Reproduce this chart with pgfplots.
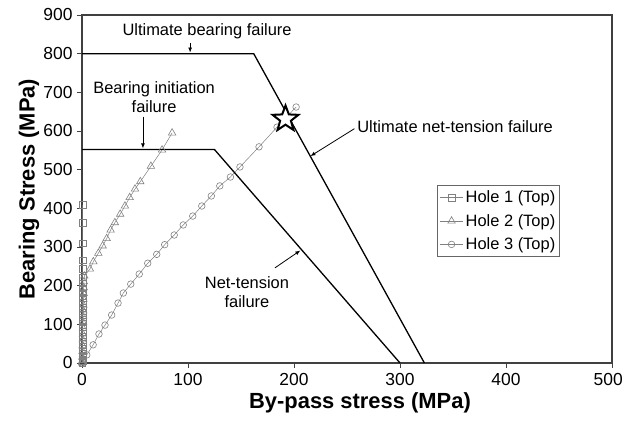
\documentclass[border=0pt]{standalone}
\usepackage{fontspec}
\setmainfont{Liberation Sans}
\usepackage{pgfplots}
\pgfplotsset{compat=1.18}
\usetikzlibrary{arrows.meta,calc}

\pgfdeclareplotmark{pentastar}{%
  \pgfpathmoveto{\pgfpointpolar{90}{\pgfplotmarksize}}%
  \pgfpathlineto{\pgfpointpolar{126}{0.42\pgfplotmarksize}}%
  \pgfpathlineto{\pgfpointpolar{162}{\pgfplotmarksize}}%
  \pgfpathlineto{\pgfpointpolar{198}{0.42\pgfplotmarksize}}%
  \pgfpathlineto{\pgfpointpolar{234}{\pgfplotmarksize}}%
  \pgfpathlineto{\pgfpointpolar{270}{0.42\pgfplotmarksize}}%
  \pgfpathlineto{\pgfpointpolar{306}{\pgfplotmarksize}}%
  \pgfpathlineto{\pgfpointpolar{342}{0.42\pgfplotmarksize}}%
  \pgfpathlineto{\pgfpointpolar{18}{\pgfplotmarksize}}%
  \pgfpathlineto{\pgfpointpolar{54}{0.42\pgfplotmarksize}}%
  \pgfpathclose
  \pgfusepathqfillstroke
}

\pgfplotstableread{
x y
0.3 0
0.5 5
0.4 10
0.6 20
0.5 30
0.6 42
0.5 55
0.6 68
0.5 80
0.6 93
0.5 106
0.6 118
0.5 130
0.6 143
0.5 155
0.6 168
0.5 180
0.6 193
0.5 206
0.6 222
0.5 243
0.6 266
0.5 310
0.6 362
0.5 409
}\holeone

\pgfplotstableread{
x y
0 0
0.3 15
0.5 30
0.6 45
0.7 60
0.8 75
0.9 90
1.0 105
1.1 120
1.2 135
1.3 150
1.4 165
1.5 180
1.6 195
1.8 210
2.2 225
7.5 243
10.7 262
15.4 284
19.5 303
23.3 322
27 344
31 363
36 385
40.5 406
45 428
50 450
55 469
65 509
75.5 551
85 595
}\holetwo

\pgfplotstableread{
x y
0 0
4.5 21
10.5 47
16 75
21.7 98
28 124
34 155
39 181
46 204
54 230
62 258
70.5 281
78 306
87 331
95.5 357
104.5 380
113 406
122 432
130 458
140 481
149 507
167 559
184 610
202 662
}\holethree

\begin{document}
\begin{tikzpicture}
\begin{axis}[
  scale only axis, width=530bp, height=348bp,
  xmin=0, xmax=500, ymin=0, ymax=900,
  xtick={0,100,...,500}, ytick={0,100,...,900},
  xticklabels={0,100,200,300,400,\hspace*{-7.5bp}500},
  tick align=outside, xtick pos=bottom, ytick pos=left,
  major tick length=5bp,
  axis line style={line width=1.3bp, black!75},
  every tick/.style={line width=0.8bp, black!75},
  ticklabel style={font=\fontsize{17.5}{19}\selectfont},
  /pgf/number format/assume math mode=true,
  xticklabel style={yshift=-2bp},
  yticklabel style={xshift=-1bp},
  xlabel={By-pass stress (MPa)},
  ylabel={Bearing Stress (MPa)},
  label style={font=\bfseries\fontsize{22}{24}\selectfont},
  xlabel style={at={(axis description cs:0.5,0)}, anchor=center, xshift=13bp, yshift=-40bp},
  ylabel style={at={(axis description cs:0,0.5)}, anchor=center, rotate=0, xshift=0bp, yshift=53bp},
  legend style={at={(axis cs:335,460)}, anchor=north west,
    font=\fontsize{16.5}{19}\selectfont, draw=black!60, line width=0.6bp,
    inner xsep=2bp, inner ysep=3.5bp, row sep=6bp},
  legend image code/.code={%
    \draw[mark repeat=2,mark phase=2,#1]
      plot coordinates {(0cm,0cm) (0.42cm,0cm) (0.84cm,0cm)};},
  legend cell align=left,
  clip=false,
]
\addplot[gray, line width=0.5bp, mark=square, mark size=3.3bp,
  mark options={gray, line width=0.6bp, fill=none}] table {\holeone};
\addlegendentry{Hole 1 (Top)}
\addplot[gray, line width=0.5bp, mark=triangle, mark size=4.3bp,
  mark options={gray, line width=0.6bp, fill=none}] table {\holetwo};
\addlegendentry{Hole 2 (Top)}
\addplot[gray, line width=0.5bp, mark=o, mark size=3.3bp,
  mark options={gray, line width=0.6bp, fill=none}] table {\holethree};
\addlegendentry{Hole 3 (Top)}

\addplot[black, line width=1.3bp, forget plot] coordinates {(0,552) (125,552) (300,0)};
\addplot[black, line width=1.3bp, forget plot] coordinates {(0,800) (162,800) (323,0)};
\addplot[only marks, mark=pentastar, mark size=13.5bp,
  mark options={fill=white, draw=black, line width=2bp}, forget plot] coordinates {(192,631)};

\node[font=\fontsize{16.5}{19}\selectfont] at (axis cs:118,858) {Ultimate bearing failure};
\draw[-{Latex[length=5bp,width=4bp]}, line width=0.8bp] (axis cs:102,828) -- (axis cs:102,803);

\node[font=\fontsize{16.5}{19}\selectfont, align=center] at (axis cs:68,688) {Bearing initiation\\failure};
\draw[-{Latex[length=5bp,width=4bp]}, line width=0.8bp] (axis cs:57.5,637) -- (axis cs:57.5,555);

\node[font=\fontsize{16.5}{19}\selectfont] at (axis cs:352,611) {Ultimate net-tension failure};
\draw[-{Latex[length=5bp,width=4bp]}, line width=0.8bp] (axis cs:257,606) -- (axis cs:215.5,535);

\node[font=\fontsize{16.5}{19}\selectfont, align=center] at (axis cs:155.6,184) {Net-tension\\failure};
\draw[-{Latex[length=5bp,width=4bp]}, line width=0.8bp] (axis cs:182,246) -- (axis cs:206,291);
\end{axis}
\pgfresetboundingbox
\path ($(current axis.south west)+(-82bp,-58bp)$) rectangle ($(current axis.north east)+(11bp,15bp)$);
\end{tikzpicture}
\end{document}
